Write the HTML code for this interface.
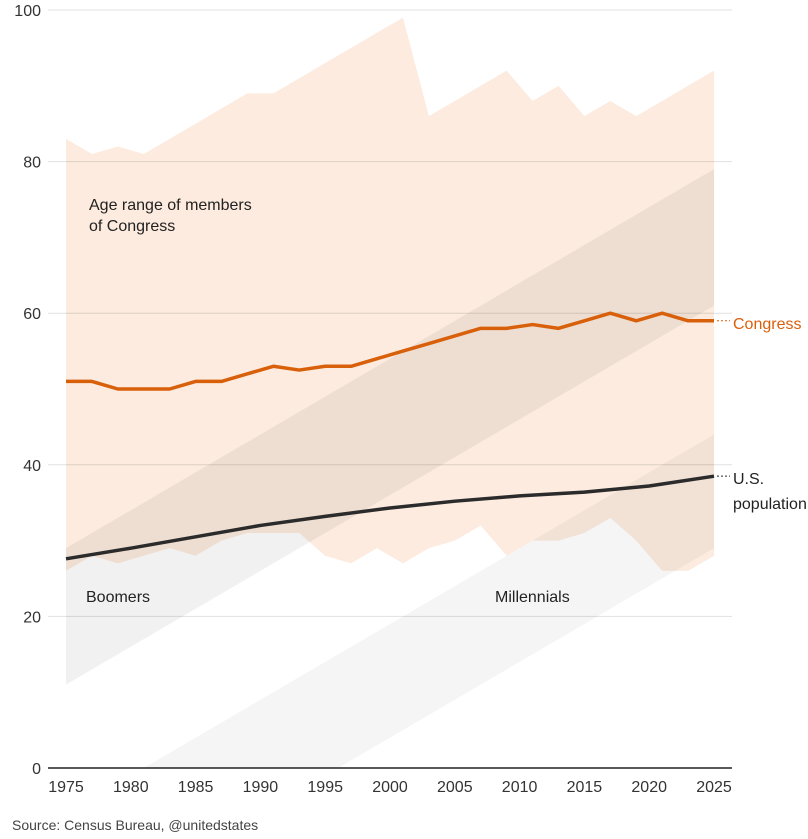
<!DOCTYPE html>
<html><head><meta charset="utf-8"><style>
html,body{margin:0;padding:0;background:#fff;}
svg text{font-family:"Liberation Sans",sans-serif;}
</style></head><body>
<svg id="chart" width="808" height="834" xmlns="http://www.w3.org/2000/svg">
<g id="bands"></g><g id="grid"></g><g id="lines"></g><g id="labels"></g>
</svg>
<script>
const congressYears=[1975,1977,1979,1981,1983,1985,1987,1989,1991,1993,1995,1997,1999,2001,2003,2005,2007,2009,2011,2013,2015,2017,2019,2021,2023,2025];
const congressMax=[83,81,82,81,83,85,87,89,89,91,93,95,97,99,86,88,90,92,88,90,86,88,86,88,90,92];
const congressMin=[26,28,27,28,29,28,30,31,31,31,28,27,29,27,29,30,32,28,30,30,31,33,30,26,26,28];
const congressMedian=[51,51,50,50,50,51,51,52,53,52.5,53,53,54,55,56,57,58,58,58.5,58,59,60,59,60,59,59];
const usYears=[1975,1980,1985,1990,1995,2000,2005,2010,2015,2020,2025];
const usMedian=[27.6,29,30.5,32,33.2,34.3,35.2,35.9,36.4,37.2,38.5];
const generations=[{name:"Boomers",born:[1946,1964]},{name:"Millennials",born:[1981,1996]}];
const yTicks=[0,20,40,60,80,100];
const xTicks=[1975,1980,1985,1990,1995,2000,2005,2010,2015,2020,2025];

const NS="http://www.w3.org/2000/svg";
const x=yr=>66+(yr-1975)*(714-66)/50;
const y=v=>768-v*7.58;
function mk(tag,attrs,parent,text){const e=document.createElementNS(NS,tag);for(const k in attrs)e.setAttribute(k,attrs[k]);if(text!==undefined)e.textContent=text;document.getElementById(parent).appendChild(e);return e;}

let d="M"+congressYears.map((yr,i)=>x(yr)+","+y(congressMax[i])).join("L");
for(let i=congressYears.length-1;i>=0;i--)d+="L"+x(congressYears[i])+","+y(congressMin[i]);
const area=mk("path",{d:d+"Z",fill:"#fcebde"},"bands");



const genAlpha=[0.055,0.04];
generations.forEach((g,gi)=>{
  const s2=Math.max(1975,g.born[1]);
  const p=[[0,0],[2025,2025-g.born[0]],[2025,2025-g.born[1]],[s2,Math.max(0,s2-g.born[1])]];
  if(g.born[0]<1975){p[0]=[1975,1975-g.born[0]];}else{p[0]=[g.born[0],0];}
  let dd="M"+p.map(q=>x(q[0])+","+y(q[1])).join("L");
  if(g.born[1]<1975){dd+="L"+x(1975)+","+y(1975-g.born[1]);}
  const b=mk("path",{d:dd+"Z",fill:"rgba(0,0,0,"+genAlpha[gi]+")"},"bands");
  
  
});

yTicks.forEach(t=>{
  if(t>0){const l=mk("line",{x1:48,x2:732,y1:y(t),y2:y(t),stroke:"#000","stroke-opacity":0.12,"stroke-width":1},"grid");
  
  }
  const tx=mk("text",{x:41,y:y(t)+6,"text-anchor":"end","font-size":16,fill:"#333"},"grid",t);
  
  
});
const base=mk("line",{x1:48,x2:732,y1:768,y2:768,stroke:"#222","stroke-width":1.5},"grid");


xTicks.forEach(t=>{
  const tx=mk("text",{x:x(t),y:792,"text-anchor":"middle","font-size":16,fill:"#333"},"grid",t);
  
  
});

const cl=mk("path",{d:"M"+congressYears.map((yr,i)=>x(yr)+","+y(congressMedian[i])).join("L"),fill:"none",stroke:"#d9600b","stroke-width":3.5,"stroke-linejoin":"round"},"lines");


const ul=mk("path",{d:"M"+usYears.map((yr,i)=>x(yr)+","+y(usMedian[i])).join("L"),fill:"none",stroke:"#2b2b2b","stroke-width":3.5,"stroke-linejoin":"round"},"lines");



const cLast=congressMedian[congressMedian.length-1], uLast=usMedian[usMedian.length-1];
const c1=mk("line",{x1:717,x2:730,y1:y(cLast),y2:y(cLast),stroke:"#d9600b","stroke-width":1,"stroke-dasharray":"2,2"},"labels");


const c2=mk("line",{x1:717,x2:730,y1:y(uLast),y2:y(uLast),stroke:"#2b2b2b","stroke-width":1,"stroke-dasharray":"2,2"},"labels");



function label(txt,lx,ly,name,opts){const t=mk("text",Object.assign({x:lx,y:ly,"font-size":16,fill:"#222"},opts||{}),"labels",txt);

}
label("Congress",733,y(cLast)+8,"congress-label",{fill:"#d9600b"});
label("U.S.",733,484,"us-label-1");
label("population",733,509,"us-label-2");
label("Age range of members",89,210,"range-label-1");
label("of Congress",89,231,"range-label-2");
label("Boomers",86,602,"boomers-label");
label("Millennials",495,602,"millennials-label");
label("Source: Census Bureau, @unitedstates",12,830,"source-note",{"font-size":14,fill:"#444"});
</script>
</body></html>
